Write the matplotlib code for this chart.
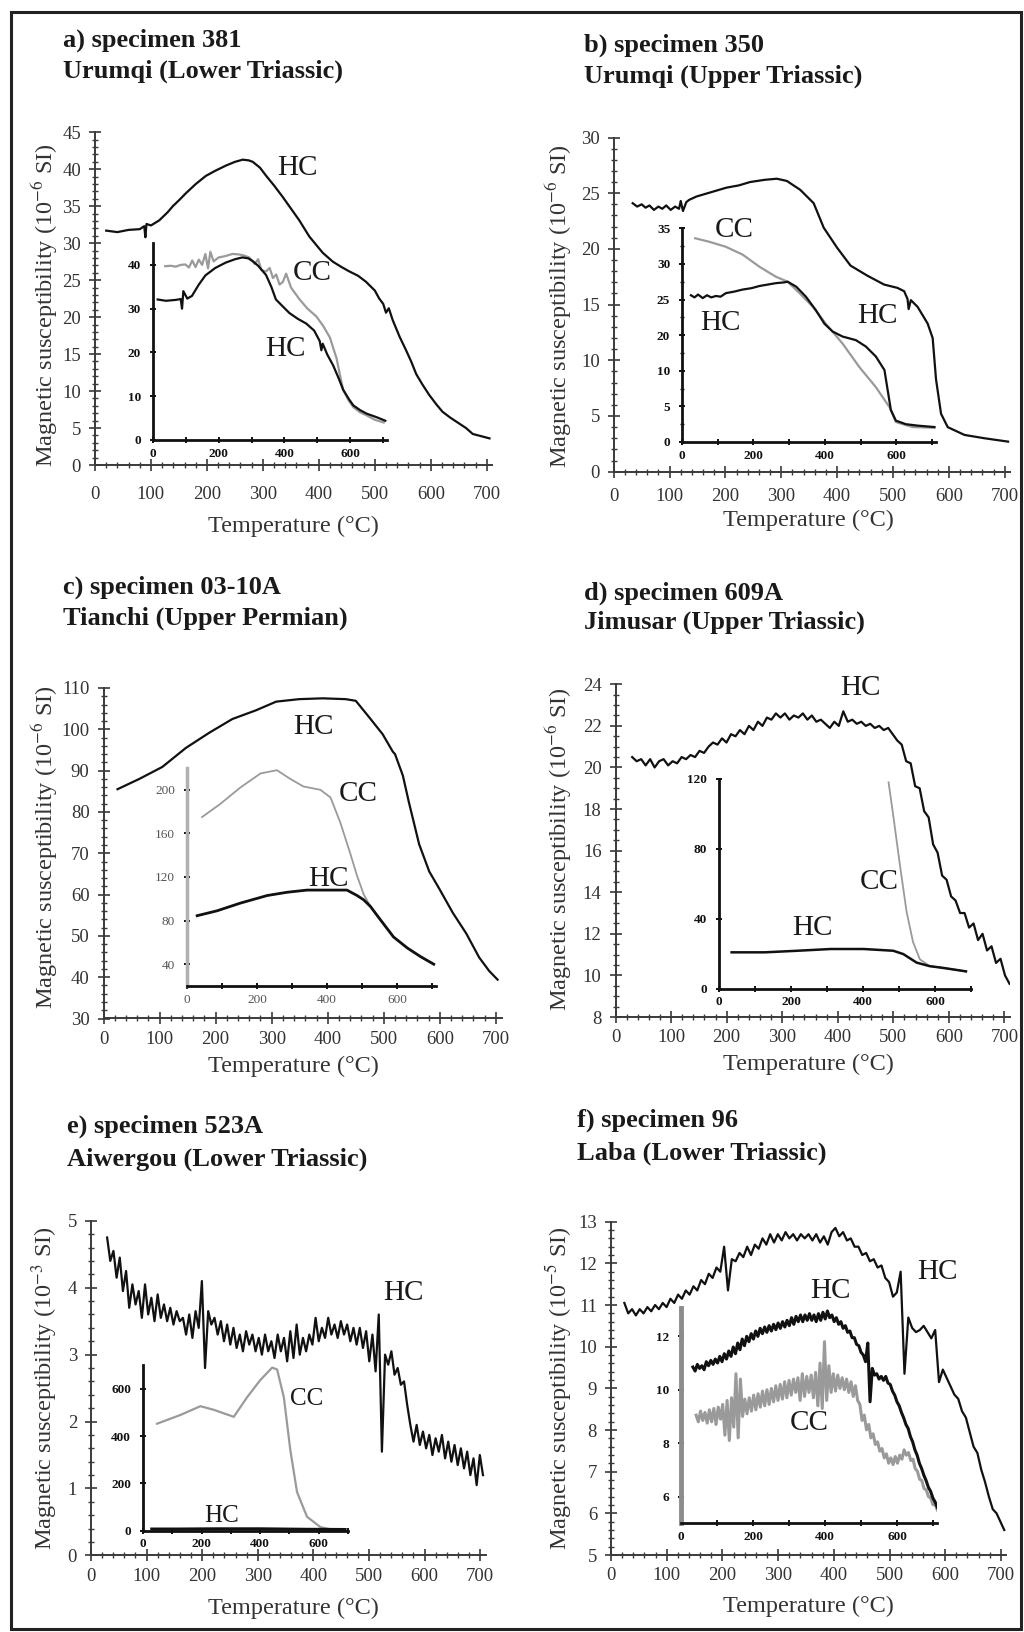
import numpy as np
import matplotlib
matplotlib.use('Agg')
import matplotlib.pyplot as plt
from matplotlib.ticker import MultipleLocator
from matplotlib.patches import Rectangle

plt.rcParams['font.family'] = ['Liberation Serif', 'DejaVu Serif']
plt.rcParams['mathtext.fontset'] = 'stix'

# ---------------- DATA ----------------
x_ticks = [0, 100, 200, 300, 400, 500, 600, 700]
x_ticklabels = ['0', '100', '200', '300', '400', '500', '600', '700']
inset_x_ticks = [0, 100, 200, 300, 400, 500, 600, 700]
inset_x_labels = ['0', '', '200', '', '400', '', '600', '']

titles = [("a) specimen 381", "Urumqi (Lower Triassic)"),
          ("b) specimen 350", "Urumqi (Upper Triassic)"),
          ("c) specimen 03-10A", "Tianchi (Upper Permian)"),
          ("d) specimen 609A", "Jimusar (Upper Triassic)"),
          ("e) specimen 523A", "Aiwergou (Lower Triassic)"),
          ("f) specimen 96", "Laba (Lower Triassic)")]
unit_exp = ['-6', '-6', '-6', '-6', '-3', '-5']

# a) main HC
a_main_T = [20, 40, 60, 80, 88, 90, 92, 100, 115, 130,
            139, 150, 163, 180, 198, 215, 234, 250, 264, 275,
            282, 295, 306, 320, 335, 350, 365, 383, 395, 407,
            425, 440, 454, 470, 484, 500, 508, 515, 520, 525,
            532, 544, 556, 565, 574, 585, 597, 610, 621, 635,
            651, 663, 675, 690, 705]
a_main_K = [31.7, 31.5, 31.8, 31.9, 32.3, 30.8, 32.6, 32.4, 33.1, 34.2,
            35.0, 35.8, 36.8, 38.0, 39.1, 39.8, 40.5, 41.0, 41.3, 41.2,
            41.0, 40.2, 39.1, 37.8, 36.3, 34.7, 33.1, 30.9, 29.8, 28.7,
            27.5, 26.8, 26.2, 25.6, 24.8, 23.6, 22.5, 21.8, 20.6, 21.2,
            19.6, 17.4, 15.5, 14.0, 12.3, 10.9, 9.5, 8.2, 7.2, 6.4,
            5.6, 5.0, 4.2, 3.9, 3.6]
# a) inset
a_in_HC_T = [15, 40, 70, 85, 89, 93, 105, 119, 140, 160,
             190, 221, 250, 272, 290, 303, 320, 344, 360, 374,
             395, 415, 440, 466, 490, 507, 512, 516, 530, 548,
             565, 578, 595, 609, 630, 650, 680, 706]
a_in_HC_K = [32.1, 31.8, 32.0, 32.2, 30.0, 34.0, 32.3, 32.9, 35.5, 37.6,
             39.3, 40.5, 41.3, 41.7, 41.5, 40.9, 39.8, 37.7, 35.0, 32.1,
             30.5, 29.0, 27.7, 26.6, 25.0, 22.6, 20.5, 22.0, 19.5, 17.0,
             14.0, 11.5, 9.4, 7.9, 6.8, 6.0, 5.2, 4.4]
a_in_CC_T = [38, 55, 70, 85, 99, 110, 120, 130, 140, 150,
             160, 168, 175, 185, 200, 220, 242, 260, 275, 293,
             310, 320, 330, 344, 355, 365, 375, 385, 395, 405,
             420, 446, 470, 497, 518, 538, 548, 558, 568, 578,
             595, 609, 630, 650, 675, 701]
a_in_CC_K = [39.7, 39.8, 39.6, 40.0, 40.1, 39.4, 41.0, 39.5, 41.2, 40.0,
             42.5, 39.2, 43.0, 40.8, 41.7, 42.0, 42.5, 42.4, 42.2, 41.7,
             40.2, 41.3, 38.8, 38.5, 39.3, 37.0, 37.8, 35.5, 36.1, 38.0,
             34.8, 32.1, 30.0, 28.2, 26.0, 23.4, 21.0, 18.7, 15.0, 11.5,
             9.0, 7.5, 6.3, 5.6, 4.6, 4.0]

# b) main HC
b_main_T = [34, 42, 50, 57, 64, 72, 80, 87, 94, 102,
            110, 117, 120, 124, 130, 135, 148, 175, 202, 224,
            244, 270, 292, 310, 334, 358, 376, 400, 424, 454,
            484, 508, 520, 526, 528, 532, 544, 562, 571, 577,
            586, 598, 628, 664, 706]
b_main_K = [24.1, 23.8, 24.0, 23.7, 23.9, 23.5, 23.8, 23.6, 23.9, 23.5,
            23.8, 23.6, 24.3, 23.4, 24.2, 24.4, 24.7, 25.1, 25.5, 25.7,
            26.0, 26.2, 26.3, 26.1, 25.3, 24.1, 21.9, 20.1, 18.5, 17.6,
            16.8, 16.5, 16.2, 15.5, 14.6, 15.4, 14.8, 13.3, 12.0, 8.3,
            5.2, 4.0, 3.3, 3.0, 2.7]
# b) inset (vertical position in tick units; tick labels as printed)
b_in_yticks = [0, 5, 10, 15, 20, 25, 30]
b_in_ylabels = ['0', '5', '10', '20', '25', '30', '35']
b_in_HC_T = [25, 35, 45, 58, 70, 82, 95, 108, 123, 145,
             170, 195, 217, 240, 263, 285, 296, 320, 347, 375,
             399, 422, 450, 487, 515, 543, 567, 576, 585, 599,
             627, 660, 683, 707]
b_in_HC_P = [20.6, 20.3, 20.7, 20.2, 20.6, 20.3, 20.5, 20.4, 20.9, 21.1,
             21.4, 21.6, 21.9, 22.1, 22.3, 22.4, 22.5, 21.8, 20.4, 18.5,
             16.6, 15.5, 14.8, 14.3, 13.4, 12.0, 10.1, 7.3, 4.5, 3.0,
             2.5, 2.3, 2.2, 2.1]
b_in_CC_T = [37, 77, 123, 170, 217, 263, 296, 329, 366, 403,
             450, 497, 543, 581, 599, 646, 707]
b_in_CC_P = [28.6, 28.1, 27.4, 26.3, 24.6, 23.2, 22.5, 20.9, 19.0, 16.6,
             13.8, 10.5, 7.7, 4.9, 2.8, 2.1, 2.0]

# c) main HC
c_main_T = [25, 64, 105, 147, 189, 230, 272, 308, 349, 391,
            432, 450, 474, 498, 516, 520, 534, 545, 563, 581,
            599, 623, 647, 670, 688, 703]
c_main_K = [85.5, 88.0, 90.9, 95.5, 99.2, 102.5, 104.6, 106.7, 107.3, 107.5,
            107.3, 106.9, 102.9, 98.8, 94.6, 94.0, 88.8, 82.2, 72.2, 65.6,
            61.4, 55.6, 50.6, 44.8, 41.5, 39.4]
c_in_CC_T = [43, 95, 152, 210, 257, 295, 333, 381, 410, 438,
             467, 486, 505, 524, 552, 590, 629, 667, 705]
c_in_CC_K = [175, 187, 202, 215, 218, 210, 203, 200, 193, 170,
             141, 121, 104, 93, 81, 65, 55, 47, 40]
c_in_HC_T = [29, 86, 152, 229, 286, 343, 400, 457, 486, 505, 524, 552, 590, 629, 667, 705]
c_in_HC_K = [84.5, 89, 96, 103, 106, 108, 108, 108, 103, 99, 93, 81, 65, 55, 47, 40]

# d) main HC (evenly sampled 30..709 degC)
d_main_K = [20.5, 20.3, 20.4, 20.1, 20.4, 20.0, 20.3, 20.4, 20.1, 20.3,
            20.2, 20.5, 20.4, 20.6, 20.5, 20.8, 20.7, 21.0, 21.2, 21.1,
            21.4, 21.2, 21.6, 21.5, 21.8, 21.6, 22.0, 21.8, 22.2, 22.0,
            22.4, 22.3, 22.6, 22.4, 22.6, 22.3, 22.5, 22.4, 22.6, 22.3,
            22.5, 22.2, 22.3, 22.1, 21.9, 22.2, 22.0, 22.7, 22.2, 22.3,
            22.1, 22.2, 22.0, 22.1, 21.9, 22.0, 21.8, 21.9, 21.6, 21.3,
            21.1, 20.3, 20.2, 19.1, 19.0, 17.9, 17.6, 16.3, 15.9, 14.8,
            14.6, 13.8, 13.6, 13.0, 13.0, 12.3, 12.5, 11.7, 12.0, 11.2,
            11.4, 10.6, 10.8, 10.0, 9.6]
d_main_range = (30, 709)
d_in_HC_T = [35, 127, 218, 310, 402, 484, 512, 549, 585, 622, 686]
d_in_HC_K = [20.7, 20.7, 21.6, 22.6, 22.6, 21.6, 19.7, 14.8, 12.8, 11.8, 9.8]
d_in_CC_T = [471, 484, 503, 521, 539, 558, 585, 622, 686]
d_in_CC_K = [118, 99, 70, 44, 26.6, 16.7, 12.8, 11.8, 9.8]

# e) main HC (evenly sampled 29..705 degC)
e_main_K = [4.75, 4.40, 4.55, 4.15, 4.45, 3.95, 4.25, 3.70, 4.05, 3.75,
            3.95, 3.55, 4.05, 3.60, 3.85, 3.50, 3.90, 3.55, 3.75, 3.50,
            3.70, 3.45, 3.65, 3.50, 3.55, 3.30, 3.60, 3.25, 3.65, 3.40,
            4.10, 2.80, 3.65, 3.45, 3.55, 3.30, 3.50, 3.20, 3.45, 3.15,
            3.40, 3.10, 3.30, 3.05, 3.35, 3.15, 3.30, 3.05, 3.25, 3.00,
            3.30, 3.05, 3.20, 2.95, 3.30, 3.05, 3.25, 2.90, 3.35, 2.95,
            3.45, 3.00, 3.25, 3.05, 3.30, 3.15, 3.55, 3.20, 3.40, 3.25,
            3.55, 3.30, 3.45, 3.25, 3.50, 3.30, 3.45, 3.20, 3.40, 3.15,
            3.40, 3.10, 3.35, 2.90, 3.30, 2.75, 3.60, 1.55, 3.00, 2.85,
            3.05, 2.70, 2.80, 2.55, 2.60, 2.25, 1.95, 1.70, 1.95, 1.65,
            1.85, 1.60, 1.80, 1.50, 1.75, 1.55, 1.80, 1.45, 1.70, 1.40,
            1.65, 1.35, 1.60, 1.30, 1.55, 1.20, 1.45, 1.05, 1.50, 1.20]
e_main_range = (29, 705)
e_in_CC_T = [48, 128, 196, 241, 310, 355, 401, 441, 458, 481, 503, 526, 560, 606, 651]
e_in_CC_K = [452, 489, 526, 511, 481, 563, 637, 689, 681, 563, 341, 163, 59, 15, 3]
e_in_HC_T = [30, 120, 250, 400, 550, 690]
e_in_HC_K = [7, 7, 8, 8, 6, 5]

# f) main HC (evenly sampled 24..706 degC)
f_main_K = [11.05, 10.80, 10.90, 10.75, 10.90, 10.80, 10.95, 10.85, 11.00, 10.90,
            11.05, 10.95, 11.15, 11.05, 11.25, 11.15, 11.35, 11.25, 11.45, 11.35,
            11.60, 11.50, 11.75, 11.65, 11.90, 11.80, 12.40, 11.35, 12.10, 12.05,
            12.25, 12.15, 12.40, 12.20, 12.45, 12.35, 12.60, 12.45, 12.70, 12.50,
            12.70, 12.55, 12.75, 12.60, 12.70, 12.55, 12.70, 12.60, 12.70, 12.55,
            12.70, 12.50, 12.65, 12.45, 12.75, 12.85, 12.65, 12.75, 12.55, 12.60,
            12.40, 12.40, 12.20, 12.25, 12.05, 12.10, 11.90, 11.95, 11.65, 11.55,
            11.20, 11.30, 11.80, 9.35, 10.70, 10.45, 10.35, 10.40, 10.50, 10.35,
            10.20, 10.40, 9.15, 9.45, 9.25, 9.05, 8.85, 8.75, 8.45, 8.30,
            7.95, 7.60, 7.45, 7.05, 6.75, 6.40, 6.10, 6.00, 5.80, 5.60]
f_main_range = (24, 706)
# f) inset HC (evenly sampled 33..712 degC)
f_in_HC_K = [10.85, 10.70, 10.95, 10.80, 10.90, 10.75, 11.05, 10.90, 11.10, 10.95,
             11.15, 11.00, 11.25, 11.05, 11.35, 11.15, 11.45, 11.25, 11.60, 11.35,
             11.75, 11.50, 11.90, 11.65, 12.00, 11.80, 12.10, 11.90, 12.20, 12.00,
             12.30, 12.10, 12.35, 12.15, 12.40, 12.20, 12.45, 12.25, 12.50, 12.30,
             12.55, 12.35, 12.60, 12.40, 12.70, 12.45, 12.75, 12.55, 12.80, 12.55,
             12.80, 12.60, 12.85, 12.60, 12.80, 12.55, 12.85, 12.60, 12.90, 12.65,
             12.95, 12.70, 12.80, 12.55, 12.70, 12.45, 12.55, 12.30, 12.40, 12.15,
             12.20, 11.95, 11.95, 11.70, 11.65, 11.40, 11.30, 11.05, 11.75, 9.55,
             10.80, 10.55, 10.60, 10.40, 10.50, 10.35, 10.50, 10.25, 10.20, 9.95,
             9.80, 9.55, 9.40, 9.15, 8.95, 8.70, 8.55, 8.25, 8.05, 7.75,
             7.55, 7.25, 7.05, 6.80, 6.60, 6.35, 6.20, 5.95, 5.80, 5.60]
f_in_HC_range = (33, 712)
# f) inset CC (evenly sampled 42..712 degC)
f_in_CC_K = [9.05, 8.80, 9.20, 8.85, 9.15, 8.75, 9.25, 8.80, 9.30, 8.70,
             9.35, 8.90, 9.45, 8.30, 9.60, 8.10, 9.70, 8.60, 10.60, 8.20,
             10.40, 9.00, 9.65, 9.10, 9.70, 9.20, 9.80, 9.25, 9.85, 9.35,
             9.95, 9.40, 10.00, 9.45, 10.05, 9.55, 10.15, 9.60, 10.20, 9.65,
             10.30, 9.70, 10.35, 9.80, 10.40, 9.90, 10.45, 9.60, 10.60, 9.75,
             10.50, 9.90, 10.55, 9.70, 10.65, 9.40, 11.00, 9.30, 11.80, 9.60,
             10.90, 9.90, 10.60, 9.95, 10.55, 10.05, 10.45, 10.00, 10.40, 9.90,
             10.30, 9.75, 10.15, 9.60, 9.45, 8.85, 9.05, 8.50, 8.70, 8.20,
             8.35, 7.95, 8.05, 7.70, 7.80, 7.45, 7.60, 7.25, 7.45, 7.20,
             7.50, 7.25, 7.55, 7.40, 7.75, 7.55, 7.65, 7.35, 7.40, 7.05,
             6.95, 6.65, 6.60, 6.30, 6.25, 6.00, 5.95, 5.70, 5.70, 5.50]
f_in_CC_range = (42, 712)

# ---------------- STYLE / LAYOUT ----------------
W, H = 1024, 1632
BLACK = '#111111'
GREY = '#9a9a9a'
AXC = '#3a3a3a'
fig = plt.figure(figsize=(W / 100, H / 100), dpi=100)


def box(l, t, r, b):
    return [l / W, 1 - b / H, (r - l) / W, (b - t) / H]


def main_axes(l, t, b, scale, ylim, ymaj, ymin, xpad=5, ypad=6):
    r = l + 710 * scale
    ax = fig.add_axes(box(l, t, r, b))
    ax.patch.set_alpha(0)
    ax.set_xlim(0, 710)
    ax.set_ylim(*ylim)
    for s in ['top', 'right']:
        ax.spines[s].set_visible(False)
    for s in ['left', 'bottom']:
        ax.spines[s].set_color(AXC)
        ax.spines[s].set_linewidth(1.4)
    ax.set_xticks(x_ticks)
    ax.set_xticklabels(x_ticklabels)
    ax.xaxis.set_minor_locator(MultipleLocator(20))
    ax.yaxis.set_major_locator(MultipleLocator(ymaj))
    ax.yaxis.set_minor_locator(MultipleLocator(ymin))
    ax.tick_params(which='major', direction='inout', length=8, width=1.2,
                   color=AXC, labelsize=13.5, labelcolor='#333333')
    ax.tick_params(which='minor', direction='inout', length=4, width=1.0, color=AXC)
    ax.tick_params(axis='x', which='major', pad=xpad)
    ax.tick_params(axis='y', which='major', pad=ypad)
    return ax


def inset_axes(l, t, r, b, xlim, ylim, yticks, ylabels, ycol=BLACK, ylw=2.0):
    ax = fig.add_axes(box(l, t, r, b))
    ax.patch.set_alpha(0)
    ax.set_xlim(*xlim)
    ax.set_ylim(*ylim)
    for s in ['top', 'right']:
        ax.spines[s].set_visible(False)
    ax.spines['bottom'].set_color(BLACK)
    ax.spines['bottom'].set_linewidth(2.0)
    ax.spines['left'].set_color(ycol)
    ax.spines['left'].set_linewidth(ylw)
    ax.set_xticks(inset_x_ticks)
    ax.set_xticklabels(inset_x_labels)
    ax.set_yticks(yticks)
    ax.set_yticklabels(ylabels)
    ax.tick_params(which='major', direction='inout', length=5, width=1.4,
                   color=BLACK, labelsize=9.5, labelcolor=BLACK)
    ax.tick_params(axis='x', pad=3)
    ax.tick_params(axis='y', pad=6)
    for tl in ax.get_xticklabels() + ax.get_yticklabels():
        tl.set_fontweight('bold')
    return ax


def ftext(x, y, s, size=21, **kw):
    fig.text(x / W, 1 - y / H, s, ha='center', va='center', fontsize=size,
             color='#1a1a1a', **kw)


def title(x, y1, y2, pair):
    fig.text(x / W, 1 - y1 / H, pair[0], ha='left', va='center', fontsize=19,
             fontweight='bold', color='#1a1a1a')
    fig.text(x / W, 1 - y2 / H, pair[1], ha='left', va='center', fontsize=19,
             fontweight='bold', color='#1a1a1a')


def labels(xl, yl_x, yl_y, exp):
    fig.text(xl[0] / W, 1 - xl[1] / H, 'Temperature (\u00b0C)', ha='center',
             va='center', fontsize=17.5, color='#333333')
    fig.text(yl_x / W, 1 - yl_y / H,
             'Magnetic susceptibility (10$^{' + exp + '}$ SI)', ha='center',
             va='center', rotation=90, fontsize=17.5, color='#333333')


def even(rng, vals):
    return np.linspace(rng[0], rng[1], len(vals))

# ---------- a ----------
title(63, 40, 71, titles[0])
ax = main_axes(95, 132.3, 465, 0.5596, (0, 45), 5, 1, xpad=11)
ax.plot(a_main_T, a_main_K, color=BLACK, lw=1.6)
ia = inset_axes(152.7, 243, 386.6, 440, (0, 710), (0, 45), [0, 10, 20, 30, 40],
                ['0', '10', '20', '30', '40'])
ia.plot(a_in_CC_T, a_in_CC_K, color=GREY, lw=1.6)
ia.plot(a_in_HC_T, a_in_HC_K, color=BLACK, lw=1.6)
labels((293, 526.7), 45, 305, unit_exp[0])
ftext(297, 168, 'HC')
ftext(312, 273, 'CC')
ftext(285, 349, 'HC')

# ---------- b ----------
title(584, 45, 76, titles[1])
bx = main_axes(613.7, 137.5, 471.7, 0.5586, (0, 30), 5, 1, xpad=8)
bx.plot(b_main_T, b_main_K, color=BLACK, lw=1.6)
ib = inset_axes(682, 228.3, 935.5, 442, (0, 710), (0, 30), b_in_yticks, b_in_ylabels)
ib.yaxis.set_minor_locator(MultipleLocator(2.5))
ib.tick_params(which='minor', direction='inout', length=3, width=1.0, color=BLACK)
ib.plot(b_in_CC_T, b_in_CC_P, color=GREY, lw=1.6)
ib.plot(b_in_HC_T, b_in_HC_P, color=BLACK, lw=1.6)
labels((808.7, 520), 558.7, 306, unit_exp[1])
ftext(877, 316, 'HC')
ftext(734, 230, 'CC')
ftext(720, 323, 'HC')

# ---------- c ----------
title(63, 587, 618, titles[2])
cx = main_axes(103.5, 688, 1018.5, 0.5606, (30, 110), 10, 2)
cx.plot(c_main_T, c_main_K, color=BLACK, lw=1.6)
ic = inset_axes(187, 768, 435.5, 986, (0, 710), (20, 220), [40, 80, 120, 160, 200],
                ['40', '80', '120', '160', '200'], ycol='#b0b0b0', ylw=2.5)
for tl in ic.get_xticklabels() + ic.get_yticklabels():
    tl.set_fontweight('normal')
    tl.set_color('#555555')
ic.plot(c_in_CC_T, c_in_CC_K, color=GREY, lw=1.3)
ic.plot(c_in_HC_T, c_in_HC_K, color=BLACK, lw=2.0)
labels((293, 1066), 45, 847, unit_exp[2])
ftext(313, 727, 'HC')
ftext(358, 794, 'CC')
ftext(328, 878.5, 'HC')

# ---------- d ----------
title(584, 593, 622.5, titles[3])
dx = main_axes(615.5, 684.3, 1017, 0.5557, (8, 24), 2, 0.5)
dx.plot(even(d_main_range, d_main_K), d_main_K, color=BLACK, lw=1.6)
idd = inset_axes(719, 778.8, 971, 988.5, (0, 700), (0, 120), [0, 40, 80, 120],
                 ['0', '40', '80', '120'])
idd.plot(d_in_CC_T, d_in_CC_K, color=GREY, lw=1.3)
idd.plot(d_in_HC_T, d_in_HC_K, color=BLACK, lw=1.8)
labels((808.7, 1064), 558.7, 849, unit_exp[3])
ftext(860, 688, 'HC')
ftext(879, 882, 'CC')
ftext(812, 928, 'HC')

# ---------- e ----------
title(67, 1126, 1159, titles[4])
ex = main_axes(91, 1220.8, 1555.4, 0.556, (0, 5), 1, 0.2)
ex.plot(even(e_main_range, e_main_K), e_main_K, color=BLACK, lw=1.6)
ie = inset_axes(143, 1365, 348, 1530.7, (0, 700), (0, 700), [0, 200, 400, 600],
                ['0', '200', '400', '600'])
ie.plot(e_in_CC_T, e_in_CC_K, color=GREY, lw=1.6)
ie.plot(e_in_HC_T, e_in_HC_K, color=BLACK, lw=2.2)
labels((293, 1608), 45, 1388, unit_exp[4])
ftext(403, 1293, 'HC')
ftext(307, 1399, 'CC', size=18)
ftext(222, 1516, 'HC', size=18)

# ---------- f ----------
title(577, 1120, 1153, titles[5])
fx = main_axes(611, 1221.7, 1555, 0.557, (5, 13), 1, 0.2)
fx.plot(even(f_main_range, f_main_K), f_main_K, color=BLACK, lw=1.6)
iff = inset_axes(681, 1308.3, 936.6, 1523.3, (0, 710), (5, 13.05), [6, 8, 10, 12],
                 ['6', '8', '10', '12'], ycol='#8c8c8c', ylw=3.5)
iff.plot(even(f_in_CC_range, f_in_CC_K), f_in_CC_K, color=GREY, lw=2.2)
iff.plot(even(f_in_HC_range, f_in_HC_K), f_in_HC_K, color=BLACK, lw=2.2)
labels((808, 1606.7), 558.7, 1388, unit_exp[5])
ftext(937, 1272, 'HC')
ftext(830, 1291, 'HC')
ftext(809, 1423, 'CC')

# outer frame
fig.patches.append(Rectangle((10.5 / W, 1 - 1629 / H), (1021 - 10.5) / W, (1629 - 12) / H,
                             transform=fig.transFigure, fill=False, lw=2.2,
                             edgecolor='#222222'))

fig.savefig('out.png', dpi=100, facecolor='white')
